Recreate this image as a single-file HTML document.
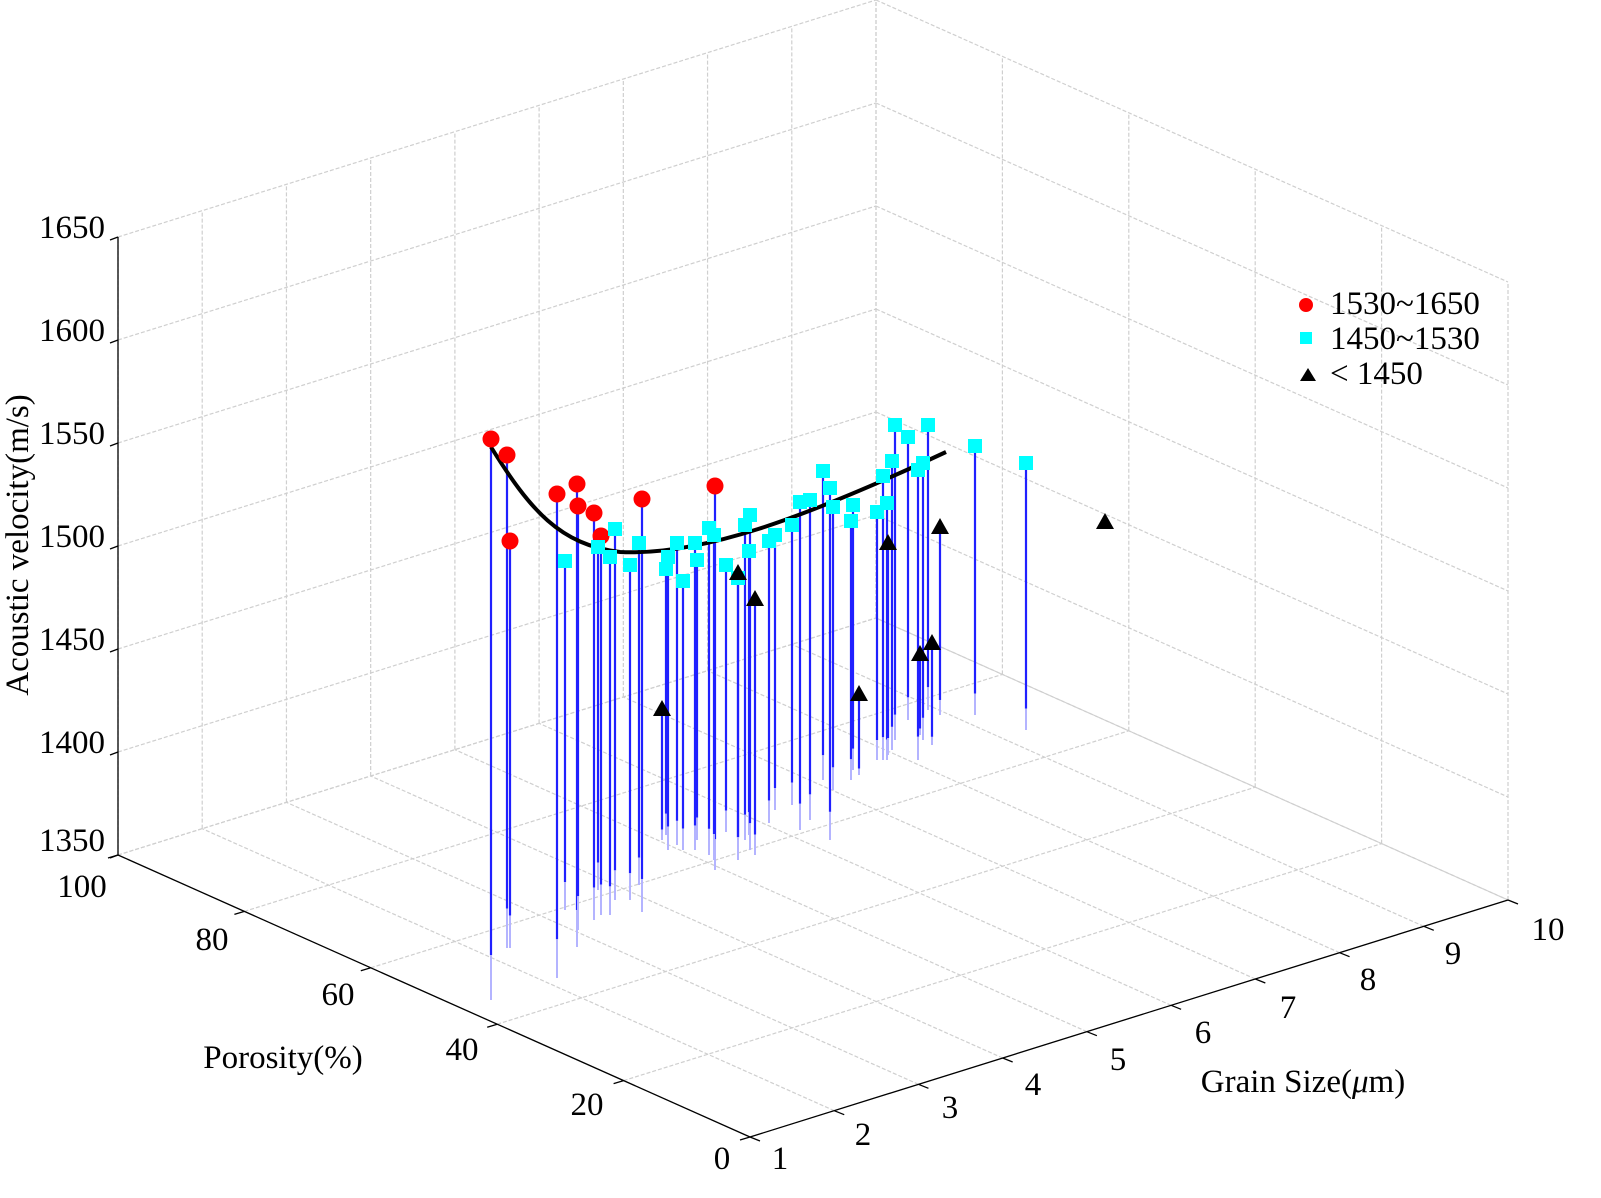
<!DOCTYPE html>
<html><head><meta charset="utf-8"><style>
html,body{margin:0;padding:0;background:#fff}
svg{display:block}
text{font-family:"Liberation Serif",serif;font-size:33px;fill:#000}
</style></head><body>
<svg id="s" width="1601" height="1198" viewBox="0 0 1601 1198" xmlns="http://www.w3.org/2000/svg">
<g id="grid" stroke="#cfcfcf" stroke-width="1.2" stroke-dasharray="4,2" fill="none"></g>
<g id="axes" stroke="#000" stroke-width="1.3" fill="none"></g>
<g id="stems"></g>
<path d="M491,447 C530,510 560,545 620,552 C700,556 800,520 946,452" stroke="#000" stroke-width="4" fill="none"/>
<g id="pts"></g>
<g id="labels">
<text x="105" y="238" text-anchor="end">1650</text>
<text x="105" y="341" text-anchor="end">1600</text>
<text x="105" y="444" text-anchor="end">1550</text>
<text x="105" y="547" text-anchor="end">1500</text>
<text x="105" y="650" text-anchor="end">1450</text>
<text x="105" y="753" text-anchor="end">1400</text>
<text x="105" y="851" text-anchor="end">1350</text>
<text x="82" y="897" text-anchor="middle">100</text>
<text x="212" y="950" text-anchor="middle">80</text>
<text x="338" y="1005" text-anchor="middle">60</text>
<text x="462" y="1060" text-anchor="middle">40</text>
<text x="587" y="1115" text-anchor="middle">20</text>
<text x="722" y="1169" text-anchor="middle">0</text>
<text x="780" y="1169" text-anchor="middle">1</text>
<text x="863" y="1145" text-anchor="middle">2</text>
<text x="950" y="1118" text-anchor="middle">3</text>
<text x="1033" y="1095" text-anchor="middle">4</text>
<text x="1118" y="1070" text-anchor="middle">5</text>
<text x="1203" y="1043" text-anchor="middle">6</text>
<text x="1288" y="1018" text-anchor="middle">7</text>
<text x="1368" y="990" text-anchor="middle">8</text>
<text x="1453" y="964" text-anchor="middle">9</text>
<text x="1548" y="940" text-anchor="middle">10</text>
<text transform="translate(28,545) rotate(-90)" text-anchor="middle">Acoustic velocity(m/s)</text>
<text x="283" y="1068" text-anchor="middle">Porosity(%)</text>
<text x="1303" y="1092" text-anchor="middle">Grain Size(<tspan font-style="italic">μ</tspan>m)</text>
<circle cx="1306" cy="305" r="7" fill="#f00"/>
<rect x="1300" y="332" width="12" height="12" fill="#0ff"/>
<polygon points="1300,381 1308,368 1316,381" fill="#000"/>
<text x="1330" y="314" font-size="29">1530~1650</text>
<text x="1330" y="349" font-size="29">1450~1530</text>
<text x="1330" y="384" font-size="29">&lt; 1450</text>
</g>
</svg>
<script>
function P(g,p,v){return [750+(g-1)/9*758-p/100*632, 1137-(g-1)/9*237-p/100*282-(v-1350)/300*618];}
var ns="http://www.w3.org/2000/svg";
function L(par,a,b,attrs){var l=document.createElementNS(ns,"line");l.setAttribute("x1",a[0]);l.setAttribute("y1",a[1]);l.setAttribute("x2",b[0]);l.setAttribute("y2",b[1]);if(attrs)for(var k in attrs)l.setAttribute(k,attrs[k]);document.getElementById(par).appendChild(l);}
for(var g=1;g<=10;g++){L("grid",P(g,0,1350),P(g,100,1350));L("grid",P(g,100,1350),P(g,100,1650));}
for(var p=0;p<=100;p+=20){L("grid",P(1,p,1350),P(10,p,1350));L("grid",P(10,p,1350),P(10,p,1650));}
for(var v=1350;v<=1650;v+=50){L("grid",P(1,100,v),P(10,100,v));L("grid",P(10,100,v),P(10,0,v));}
L("axes",P(1,100,1350),P(1,100,1650));
L("axes",P(1,100,1350),P(1,0,1350));
L("axes",P(1,0,1350),P(10,0,1350));
for(var v=1350;v<=1650;v+=50){var a=P(1,100,v);L("axes",a,[a[0]-8,a[1]+3]);}
for(var p=0;p<=100;p+=20){var a=P(1,p,1350);L("axes",a,[a[0]-10,a[1]+3]);}
for(var g=1;g<=10;g++){var a=P(g,0,1350);L("axes",a,[a[0]+10,a[1]+4]);}
var red=[[491,439,1000],[507,455,948],[510,541,948],[557,494,978],[577,484,947],[578,506,930],[594,513,920],[601,536,915],[642,499,912],[715,486,870]];
var cy=[[565,561,910],[615,529,900],[598,547,890],[610,557,915],[630,565,900],[639,543,885],[666,569,835],[668,557,850],[677,543,845],[683,581,850],[697,560,840],[695,543,850],[709,528,855],[714,535,860],[726,565,832],[738,578,860],[745,525,840],[749,551,835],[750,515,850],[769,541,823],[775,535,810],[792,525,805],[800,502,830],[810,500,820],[823,471,780],[830,488,840],[833,507,790],[851,521,780],[853,505,770],[877,512,760],[883,476,760],[887,503,760],[892,461,750],[895,425,740],[908,437,720],[918,470,760],[923,463,740],[928,425,710],[975,446,715],[1026,463,730]];
var tri=[[662,709,840],[755,599,855],[738,573,860],[859,694,775],[888,543,755],[920,654,735],[932,643,745],[940,527,715],[1105,522,522]];
var all=red.concat(cy,tri);
all.forEach(function(d,i){var mid=d[1]+(d[2]-d[1])*0.92;L("stems",[d[0],d[1]],[d[0],mid],{stroke:"#2020ff","stroke-width":2.2});L("stems",[d[0],mid],[d[0],d[2]],{stroke:"#b4b4ff","stroke-width":2});});
var pts=document.getElementById("pts");
red.forEach(function(d){var c=document.createElementNS(ns,"circle");c.setAttribute("cx",d[0]);c.setAttribute("cy",d[1]);c.setAttribute("r",8.5);c.setAttribute("fill","#f00");pts.appendChild(c);});
cy.forEach(function(d){var c=document.createElementNS(ns,"rect");c.setAttribute("x",d[0]-7);c.setAttribute("y",d[1]-7);c.setAttribute("width",14);c.setAttribute("height",14);c.setAttribute("fill","#0ff");pts.appendChild(c);});
tri.forEach(function(d){var c=document.createElementNS(ns,"polygon");c.setAttribute("points",(d[0]-9)+","+(d[1]+7)+" "+d[0]+","+(d[1]-9)+" "+(d[0]+9)+","+(d[1]+7));c.setAttribute("fill","#000");pts.appendChild(c);});
</script>
</body></html>
